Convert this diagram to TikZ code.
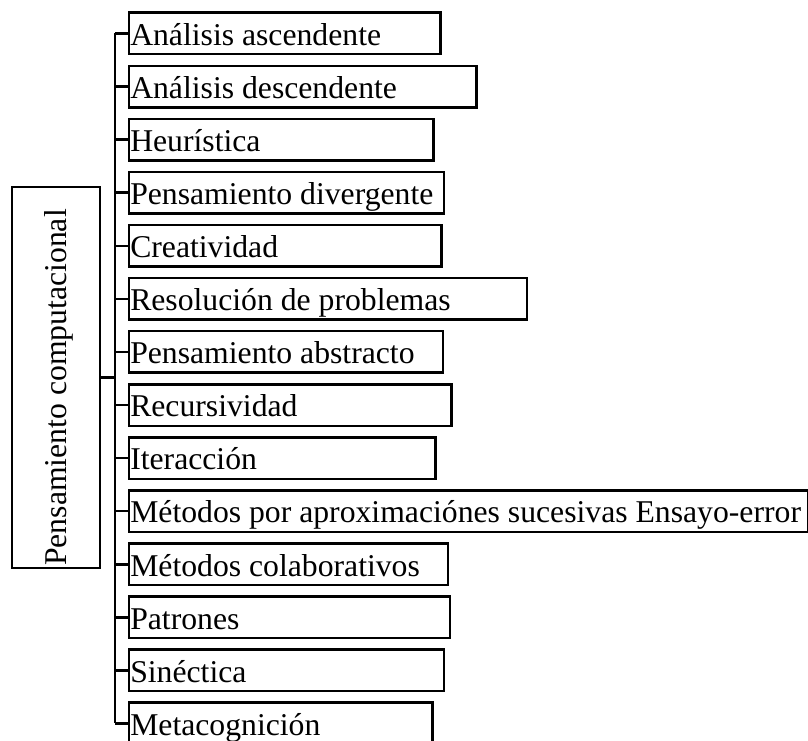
\documentclass[tikz,border=0pt]{standalone}
\usepackage{fontspec}
\setmainfont{Liberation Serif}
\begin{document}
\begin{tikzpicture}[x=1pt,y=1pt,line width=2.5pt,line join=miter,
  itembox/.style={draw,rectangle,inner xsep=1.5pt,inner ysep=0pt,
    text height=32.5pt,text depth=9pt,anchor=base west,
    font=\fontsize{31.7}{36}\selectfont},
  mainbox/.style={draw,rectangle,rotate=90,inner xsep=2pt,inner ysep=0pt,
    text height=54.5pt,text depth=33.5pt,anchor=base west,
    font=\fontsize{31.7}{36}\selectfont}]
\useasboundingbox (0,0) rectangle (808,-741);
\node[mainbox] (main) at (66.5,-569) {\makebox[377pt][l]{Pensamiento computacional}};
\coordinate (tr) at (115,0);
\foreach \t/\r [count=\i from 0] in {
  {Análisis ascendente}/439,
  {Análisis descendente}/475,
  {Heurística}/432,
  {Pensamiento divergente}/442.5,
  {Creatividad}/440,
  {Resolución de problemas}/525.5,
  {Pensamiento abstracto}/441.5,
  {Recursividad}/450,
  {Iteracción}/434,
  {Métodos por aproximaciónes sucesivas Ensayo-error}/806.5,
  {Métodos colaborativos}/446.7,
  {Patrones}/448.7,
  {Sinéctica}/442.7,
  {Metacognición}/431}{
  \pgfmathsetmacro{\w}{\r-127.5-3}
  \node[itembox] (b\i) at (127.5,{-(45.2+\i*53.08)}) {\makebox[\w pt][l]{\t}};
  \draw (b\i.west) -- (b\i.west -| tr);
}
\draw (b0.west -| tr) -- (b13.west -| tr);
\draw (main.south) -- (main.south -| tr);
\end{tikzpicture}
\end{document}
